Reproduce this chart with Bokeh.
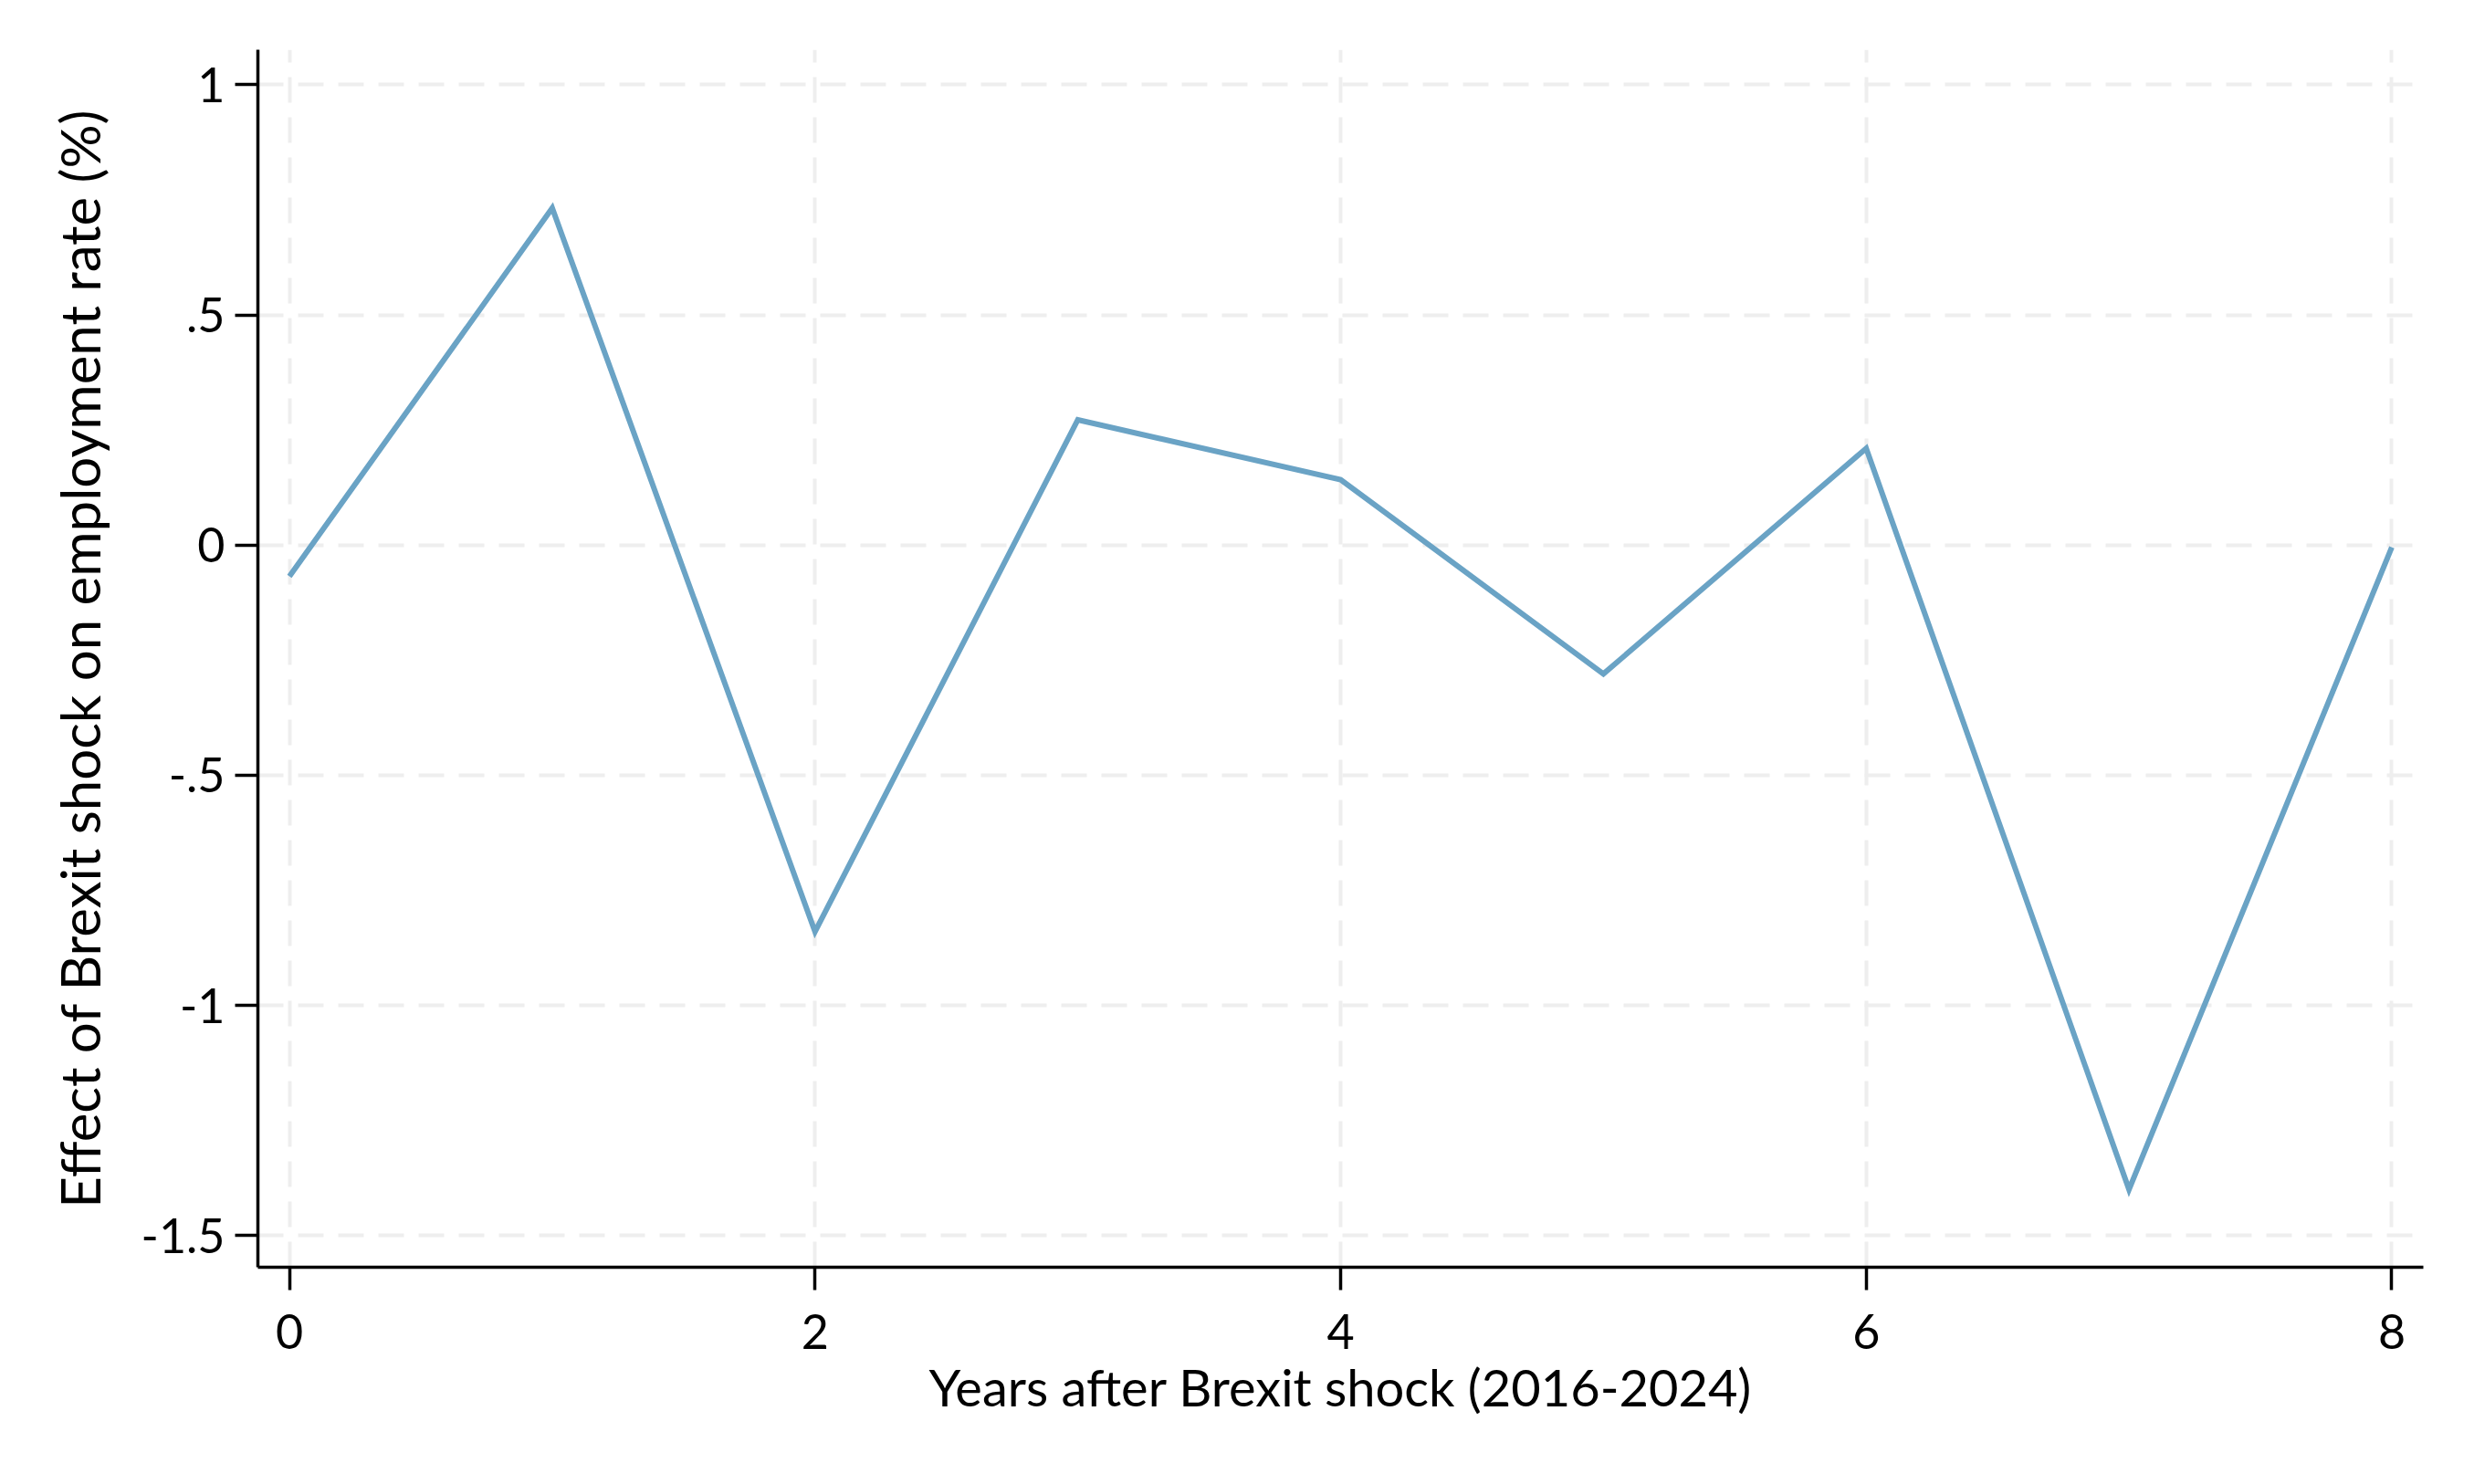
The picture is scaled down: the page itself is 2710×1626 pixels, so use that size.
from bokeh.plotting import figure
from bokeh.models import FixedTicker, Range1d, CustomJSTickFormatter
from bokeh.embed import file_html
from bokeh.resources import INLINE

years_after = [0, 1, 2, 3, 4, 5, 6, 7, 8]
effect = [-0.068, 0.732, -0.840, 0.272, 0.142, -0.280, 0.210, -1.400, -0.005]
x_ticks = [0, 2, 4, 6, 8]
y_ticks = [-1.5, -1, -0.5, 0, 0.5, 1]
y_tick_labels = {-1.5: "-1.5", -1: "-1", -0.5: "-.5", 0: "0", 0.5: ".5", 1: "1"}

FONT = "Lato"

p = figure(
    output_backend="svg", toolbar_location=None,
    frame_width=2372, frame_height=1334,
    min_border_left=282, min_border_right=37, min_border_top=54, min_border_bottom=220,
    x_range=Range1d(-0.12, 8.12), y_range=Range1d(-1.569, 1.076),
)
p.outline_line_color = None
p.background_fill_color = "white"
p.border_fill_color = "white"

p.line(years_after, effect, line_color="#6aa3c5", line_width=6, line_join="miter")

p.xaxis.ticker = FixedTicker(ticks=x_ticks)
p.yaxis.ticker = FixedTicker(ticks=y_ticks)
p.yaxis.formatter = CustomJSTickFormatter(args=dict(m={str(k): v for k, v in y_tick_labels.items()}), code="""
const key = String(tick);
return (key in m) ? m[key] : tick.toString();
""")

for ax in (p.xaxis[0], p.yaxis[0]):
    ax.axis_line_width = 3.5
    ax.axis_line_color = "black"
    ax.major_tick_line_width = 3.5
    ax.major_tick_line_color = "black"
    ax.major_tick_out = 25
    ax.major_tick_in = 0
    ax.minor_tick_line_color = None
    ax.major_label_text_font = FONT
    ax.major_label_text_font_size = "52px"
    ax.major_label_text_color = "black"
    ax.axis_label_text_font = FONT
    ax.axis_label_text_font_style = "normal"
    ax.axis_label_text_color = "black"

p.xaxis.axis_label = "Years after Brexit shock (2016-2024)"
p.yaxis.axis_label = "Effect of Brexit shock on employment rate (%)"
p.xaxis.axis_label_text_font_size = "56px"
p.yaxis.axis_label_text_font_size = "60px"
p.xaxis.major_label_standoff = 26
p.xaxis.axis_label_standoff = 5
p.yaxis.major_label_standoff = 11
p.yaxis.axis_label_standoff = 29
p.yaxis.major_label_orientation = "horizontal"

for g in (p.xgrid[0], p.ygrid[0]):
    g.grid_line_color = "#eeeeee"
    g.grid_line_width = 4
    g.grid_line_dash = "28 16"

open("out.html", "w").write(file_html(p, INLINE))
